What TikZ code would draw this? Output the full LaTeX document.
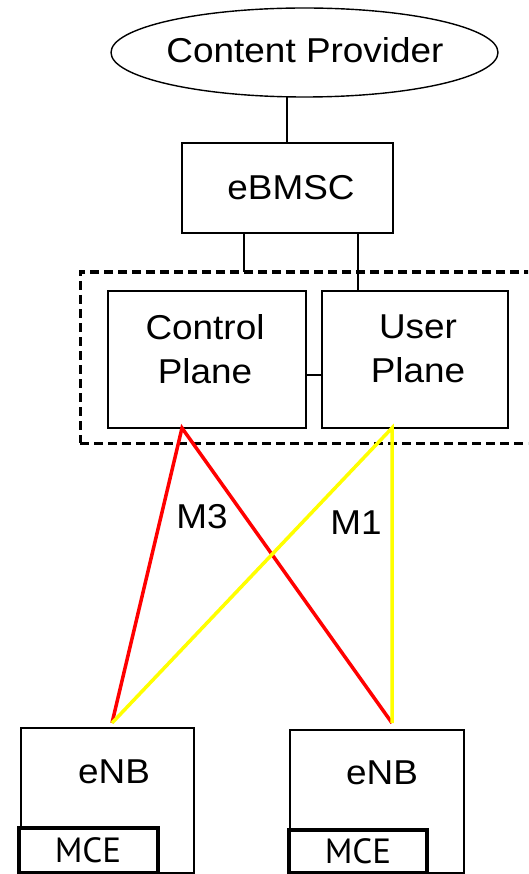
\documentclass[tikz,border=0pt]{standalone}
\usepackage{fontspec}
\setmainfont[FakeStretch=1.07]{Liberation Sans}
\newfontfamily\mcefont{PT Sans}
\usetikzlibrary{shapes.geometric}
\begin{document}
\begin{tikzpicture}[x=1pt,y=-1pt,
  every node/.style={inner sep=0pt,outer sep=0pt},
  txt/.style={font=\fontsize{34.5}{44}\selectfont,align=center},
  box/.style={draw,line width=1.4pt,rectangle},
  mcebox/.style={draw,line width=4pt,rectangle,fill=white},
  mcetxt/.style={font=\mcefont\fontsize{35}{40}\selectfont},
  link/.style={line width=1.4pt},
  redl/.style={line width=3.5pt,draw={rgb,255:red,255;green,0;blue,0}},
  yell/.style={line width=3.5pt,draw={rgb,255:red,255;green,255;blue,0}}]
\useasboundingbox (0,0) rectangle (528,874);
\clip (0,0) rectangle (528,874);
% Content provider
\node[draw,ellipse,line width=1.4pt,minimum width=387pt,minimum height=89pt] (cp) at (304.5,52.5) {};
\node[txt] (cpt) at (305,50) {Content Provider};
% eBMSC
\node[box,minimum width=211pt,minimum height=90pt] (bm) at (287.5,188) {};
\node[txt] (bmt) at (291,188) {eBMSC};
% dashed group
\node[draw,dash pattern=on 9pt off 5pt,line width=3pt,minimum width=470pt,minimum height=171pt] (grp) at (315,357.5) {};
% control & user plane
\node[box,minimum width=198pt,minimum height=137pt] (ctl) at (207,359.5) {};
\node[box,minimum width=186pt,minimum height=137pt] (usr) at (415,359.5) {};
\node[txt] (ctlt) at (205,349) {Control\\Plane};
\node[txt] (usrt) at (418,349) {User\\Plane};
% eNBs
\node[box,minimum width=173pt,minimum height=145pt] (enb1) at (107.5,800.5) {};
\node[box,minimum width=174pt,minimum height=143pt] (enb2) at (377,801.5) {};
\node[txt] (enb1t) at (114,772) {eNB};
\node[txt] (enb2t) at (382,772.5) {eNB};
\node[mcebox,minimum width=139pt,minimum height=45pt] (mce1) at (88.5,850.5) {};
\node[mcebox,minimum width=138pt,minimum height=43pt] (mce2) at (358,851.5) {};
\node[mcetxt] (mce1t) at (88,850) {MCE};
\node[mcetxt] (mce2t) at (358,851) {MCE};
% connectors
\draw[link] (cp.south -| 287,0) -- (bm.north -| 287,0);
\draw[link] (bm.south -| 244,0) -- (grp.north -| 244,0);
\draw[link] (bm.south -| 358,0) -- (usr.north -| 358,0);
\draw[link] (ctl.east |- 0,375) -- (usr.west |- 0,375);
\coordinate (cpb) at (182,428);
\coordinate (upb) at (392,428);
\coordinate (e1) at (112,723);
\coordinate (e2) at (392,723);
\draw[redl] (e1) -- (cpb) -- (e2);
\draw[yell] (e1) -- (upb) -- (e2);
\node[txt] (m3) at (202,517) {M3};
\node[txt] (m1) at (356,523) {M1};
\end{tikzpicture}
\end{document}
